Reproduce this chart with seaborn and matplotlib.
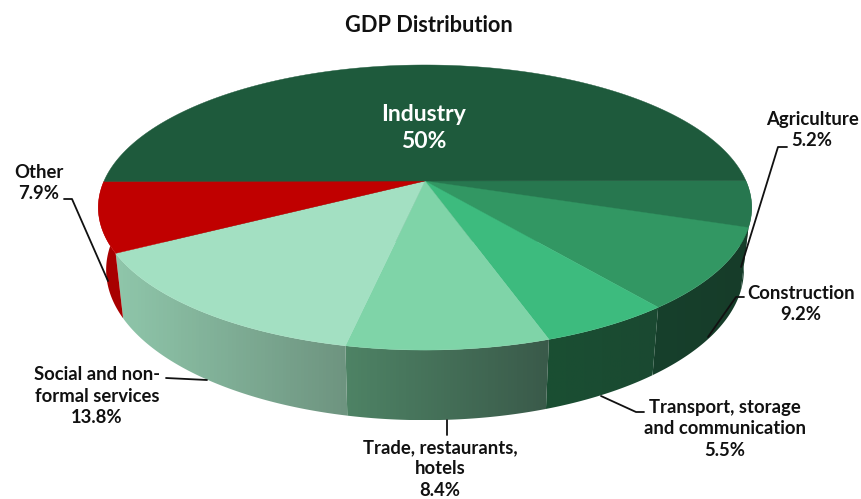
import numpy as np
import matplotlib
matplotlib.use("Agg")
import matplotlib.pyplot as plt
from matplotlib.patches import Polygon
import seaborn as sns

categories = ["Agriculture", "Construction", "Transport, storage\nand communication",
              "Trade, restaurants,\nhotels", "Social and non-\nformal services", "Other", "Industry"]
values = [5.2, 9.2, 5.5, 8.4, 13.8, 7.9, 50]
top_colors = ["#27774F", "#329763", "#3DBB7E", "#7FD4A8", "#A3E0C2", "#C00000", "#1E5A3C"]
side_left = ["#17402C", "#17402C", "#1A4F33", "#4E8365", "#8FC6AA", "#A80000", "#1E5A3C"]
side_right = ["#17402C", "#163C29", "#1A4931", "#3A5A4A", "#6E9480", "#A80000", "#1E5A3C"]
label_xy = [(812, 130), (801, 304), (725, 429), (440, 469), (97, 396), (39, 183), (424, 128)]
label_colors = ["#111111"] * 6 + ["white"]
label_sizes = [13.3] * 6 + [16.5]

# leader lines, label end to slice end
leaders = [[(787, 147), (778, 147), (741, 267)],
           [(744, 297), (736, 297), (708, 337)],
           [(644, 412), (636, 412), (601, 396)],
           [(447, 420), (447, 435)],
           [(166, 378), (207, 380)],
           [(64, 199), (72, 199), (108, 281)]]

CX, CY = 425, 181
RX, RY, K = 321, 137.6, 0.186


def rim(t):
    # perspective circle, t in degrees counterclockwise
    r = np.radians(t)
    s = 1 / (1 + K * np.sin(r))
    return RX * np.cos(r) * s, RY * np.sin(r) * s


def top_xy(t):
    dx, dy = rim(t)
    return CX + dx, CY - dy


def bottom_xy(t):
    dx, dy = rim(t)
    return CX + 0.976 * dx, 242 - 1.054 * dy


sns.set_theme(style="white")
plt.rcParams["font.family"] = ["Lato", "DejaVu Sans"]

fig = plt.figure(figsize=(8.62, 4.99), dpi=100)
ax = fig.add_axes([0, 0, 1, 1])

shares = np.array(values) / sum(values) * 360
edges = 0.18 - np.concatenate([[0], np.cumsum(shares)])

# side wall first, then the top face over it
for i in range(len(values)):
    t = np.linspace(edges[i], edges[i + 1], 80)
    t = t[np.sin(np.radians(t)) < 0.02]
    if len(t) < 2:
        continue
    x1, y1 = top_xy(t)
    x2, y2 = bottom_xy(t)
    xs = np.concatenate([x1, x2[::-1]])
    ys = np.concatenate([y1, y2[::-1]])
    pal = sns.blend_palette([side_left[i], side_right[i]], 64)
    grad = np.array(pal)[np.newaxis, :, :]
    im = ax.imshow(grad, extent=[xs.min(), xs.max(), ys.max(), ys.min()], aspect="auto", zorder=1)
    clip = Polygon(np.column_stack([xs, ys]), closed=True, transform=ax.transData,
                   facecolor="none", edgecolor="none")
    ax.add_patch(clip)
    im.set_clip_path(clip)

for i in range(len(values)):
    t = np.linspace(edges[i], edges[i + 1], 200)
    x, y = top_xy(t)
    ax.fill(np.r_[CX, x], np.r_[CY, y], color=top_colors[i], lw=0.3, zorder=2)

for pts in leaders:
    xs, ys = zip(*pts)
    ax.plot(xs, ys, color="#111111", lw=1.3, zorder=3)

for name, val, (lx, ly), col, size in zip(categories, values, label_xy, label_colors, label_sizes):
    ax.text(lx, ly, f"{name}\n{val:g}%", ha="center", va="center", color=col,
            fontsize=size, fontweight="bold", linespacing=1.32, zorder=4)

ax.text(429, 25, "GDP Distribution", ha="center", va="center", color="#111111",
        fontsize=15.7, fontweight="bold")

ax.set_xlim(0, 862)
ax.set_ylim(499, 0)
ax.axis("off")
fig.savefig("out.png", dpi=100)
